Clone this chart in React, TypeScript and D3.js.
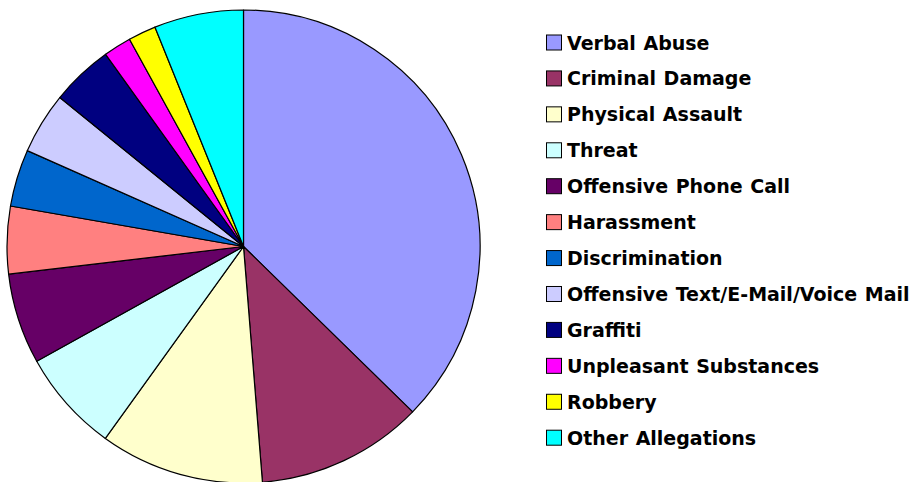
import React from "react";
import * as d3 from "d3";

const categories = [
  "Verbal Abuse",
  "Criminal Damage",
  "Physical Assault",
  "Threat",
  "Offensive Phone Call",
  "Harassment",
  "Discrimination",
  "Offensive Text/E-Mail/Voice Mail",
  "Graffiti",
  "Unpleasant Substances",
  "Robbery",
  "Other Allegations",
];
const values = [37.3, 11.4, 11.2, 7.0, 6.2, 4.6, 3.9, 4.2, 4.25, 1.9, 1.9, 6.1];
const colors = [
  "#9999FF", "#993366", "#FFFFCC", "#CCFFFF", "#660066", "#FF8080",
  "#0066CC", "#CCCCFF", "#000080", "#FF00FF", "#FFFF00", "#00FFFF",
];

const W = 918, H = 482;
const cx = 243.5, cy = 246.5, R = 236.5;

export default function App() {
  const pie = d3.pie<number>().sort(null).value((d) => d);
  const arcs = pie(values);
  const arc = d3.arc<d3.PieArcDatum<number>>().innerRadius(0).outerRadius(R);
  const legendY = d3.scalePoint<number>().domain(d3.range(categories.length)).range([42.5, 437.7]);
  return (
    <svg width={W} height={H} style={{ position: "absolute", left: 0, top: 0, background: "#fff" }}>
      <g transform={`translate(${cx},${cy})`}>
        {arcs.map((a, i) => (
          <path key={i} d={arc(a) || ""} fill={colors[i]} stroke="#000" strokeWidth={1.2} strokeLinejoin="round" />
        ))}
      </g>
      <g>
        {categories.map((c, i) => {
          const y = legendY(i) as number;
          return (
            <g key={c}>
              <rect x={546.5} y={y - 7.5} width={15} height={15} fill={colors[i]} stroke="#000" strokeWidth={1} />
              <text x={567} y={y + 7} fontFamily="'DejaVu Sans', sans-serif" fontWeight="bold" fontSize={19} wordSpacing={1} fill="#000">
                {c}
              </text>
            </g>
          );
        })}
      </g>
    </svg>
  );
}
